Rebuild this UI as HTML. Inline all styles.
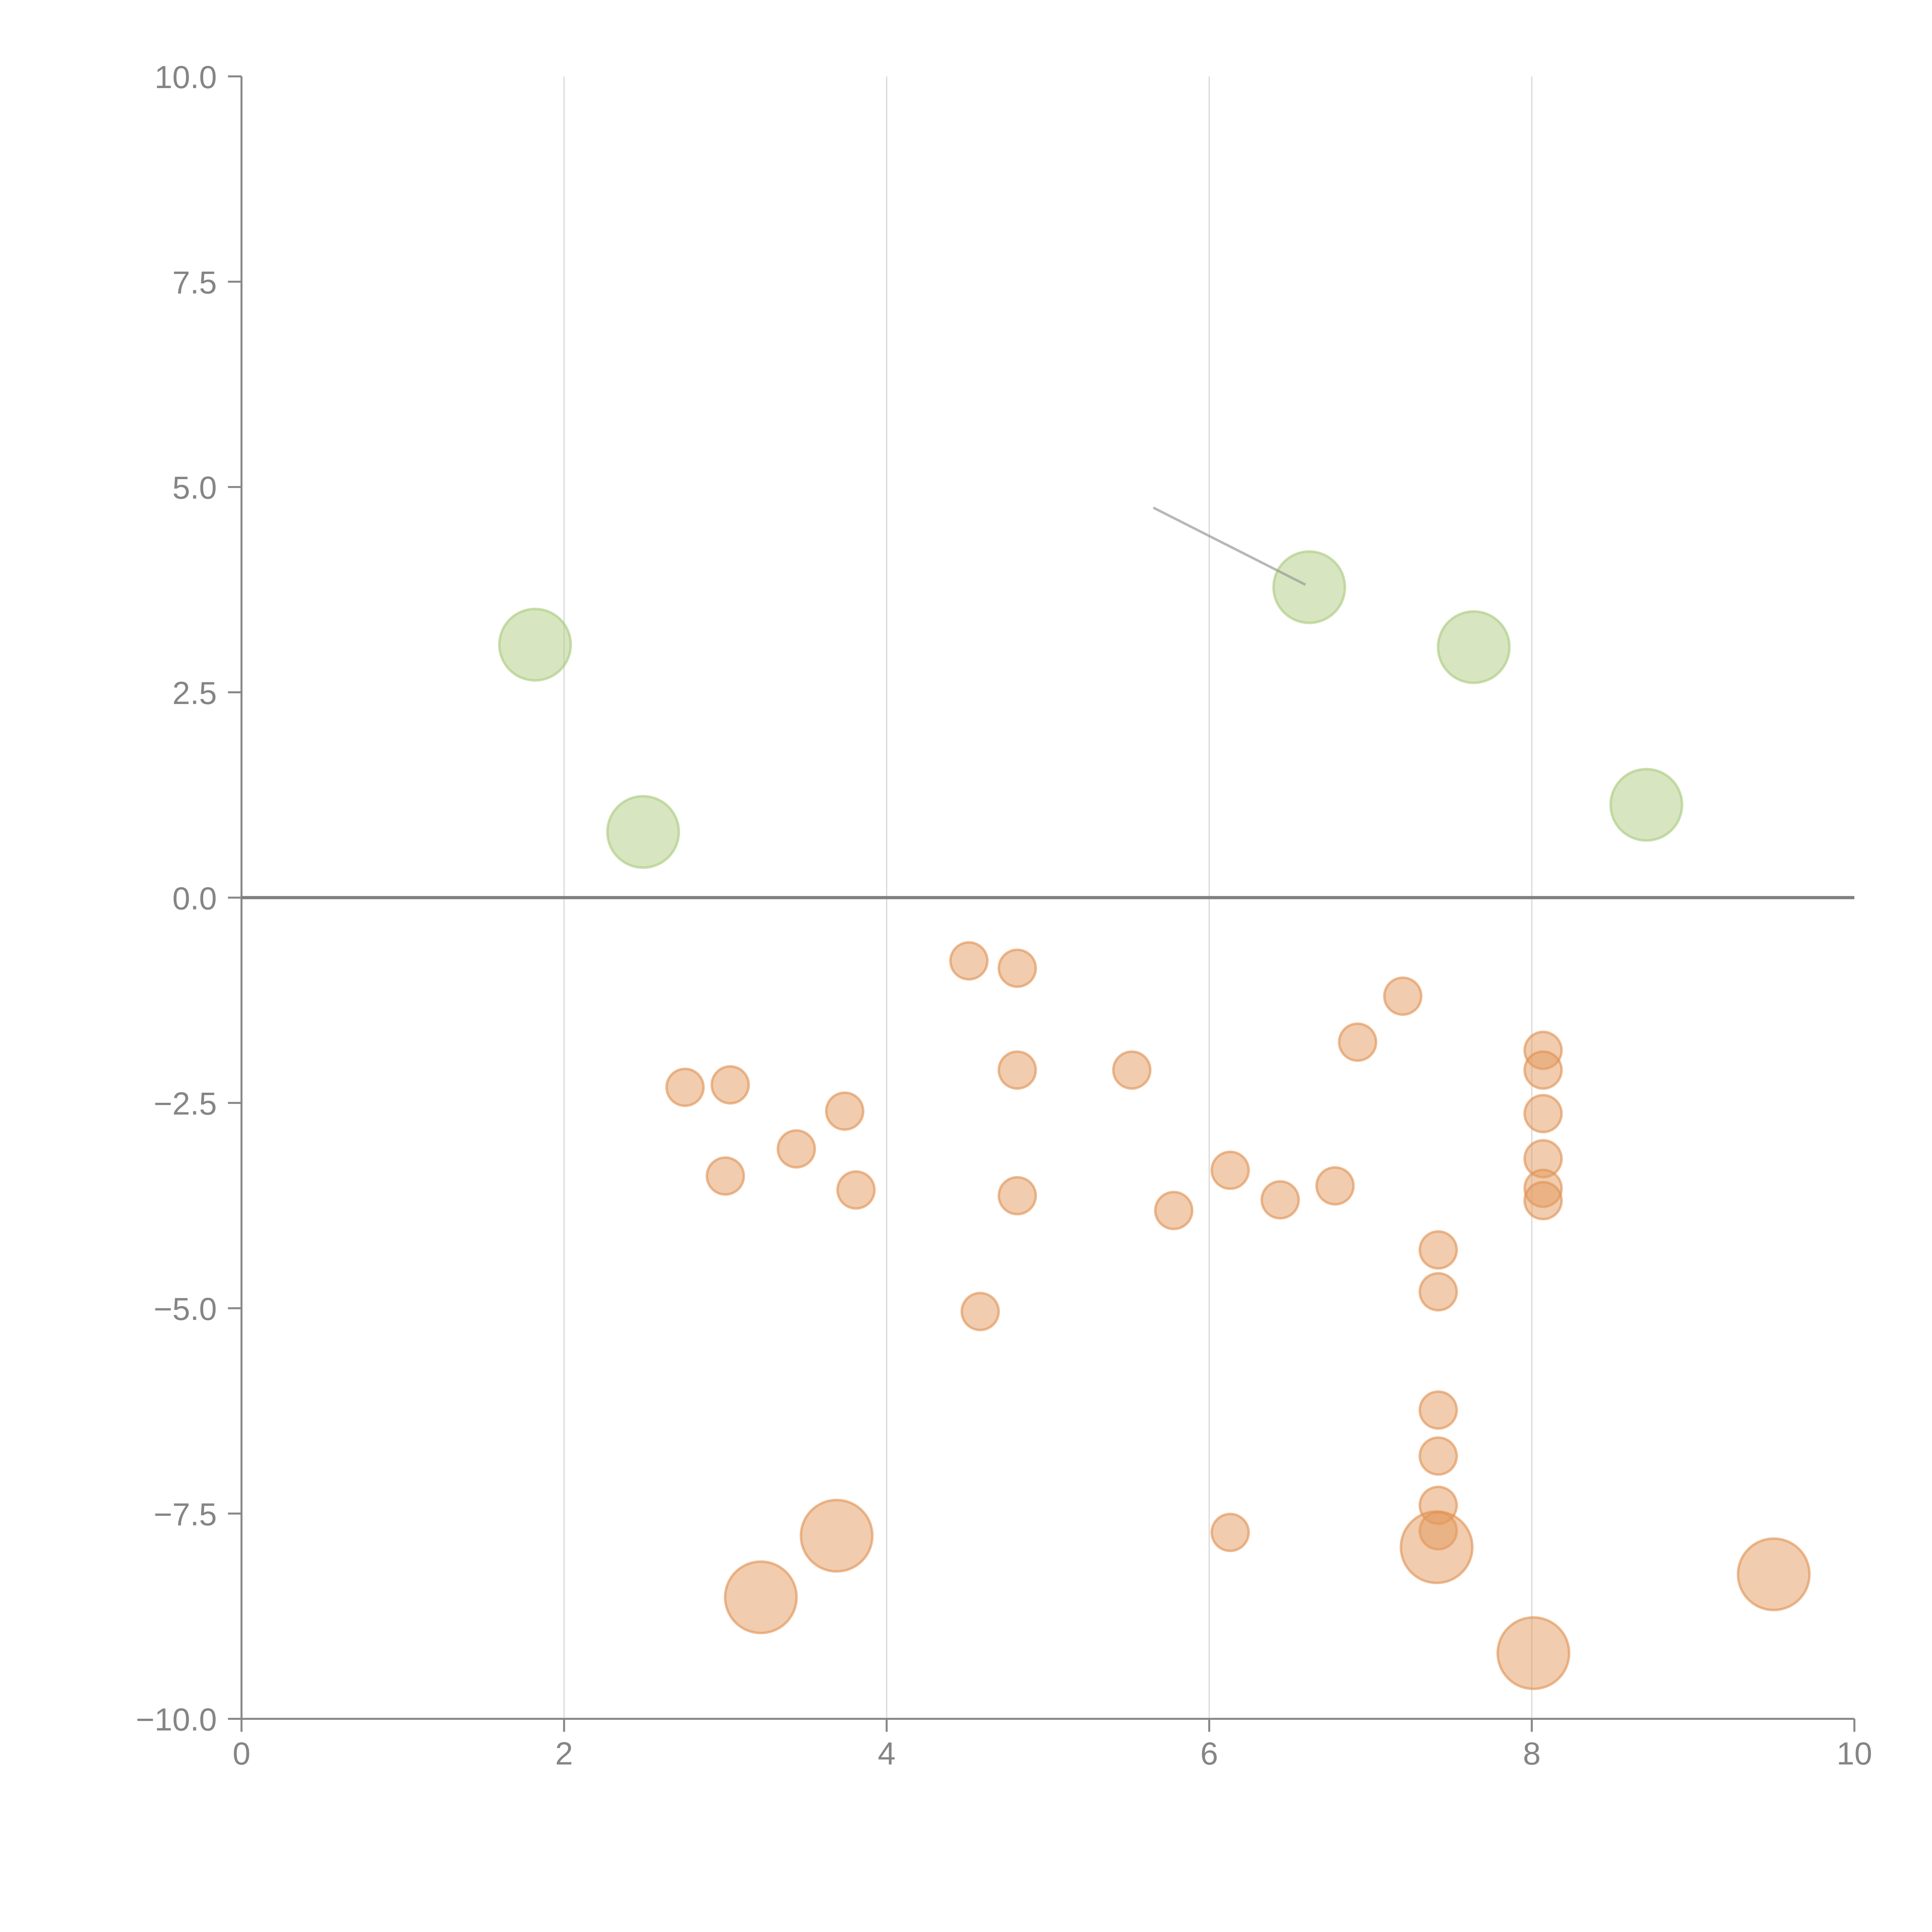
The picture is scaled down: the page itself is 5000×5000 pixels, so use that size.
<!DOCTYPE html>
<html><head><meta charset="utf-8"><style>
html,body{margin:0;padding:0;background:#fff;}
svg{display:block;}
text{font-family:"Liberation Sans",Arial,sans-serif;fill:#858585;}
</style></head>
<body>
<svg id="chart" width="5000" height="5000" viewBox="0 0 1568 1568" xmlns="http://www.w3.org/2000/svg">
<g id="grid"></g>
<g id="axes"></g>
<g id="marks"></g>
</svg>
<script>
const xTicks = [0, 2, 4, 6, 8, 10];
const yTicks = [10, 7.5, 5, 2.5, 0, -2.5, -5, -7.5, -10];
const yTickLabels = ["10.0", "7.5", "5.0", "2.5", "0.0", "\u22122.5", "\u22125.0", "\u22127.5", "\u221210.0"];
const greenX = [1.82, 2.49, 6.62, 7.64, 8.71];
const greenY = [3.08, 0.80, 3.78, 3.05, 1.13];
const bigOrangeX = [3.69, 3.22, 7.41, 8.01, 9.50];
const bigOrangeY = [-7.77, -8.52, -7.91, -9.20, -8.24];
const smallX = [4.51, 4.81, 7.20, 6.92, 8.07, 8.07, 4.81, 5.52, 2.75, 3.03, 3.74, 8.07, 3.44, 8.07, 3.00, 6.13, 6.78, 3.81, 4.81, 6.44, 8.07, 8.07, 5.78, 7.42, 7.42, 4.58, 7.42, 7.42, 7.42, 7.42, 6.13];
const smallY = [-0.77, -0.86, -1.20, -1.76, -1.86, -2.10, -2.10, -2.10, -2.31, -2.28, -2.60, -2.63, -3.06, -3.18, -3.39, -3.32, -3.51, -3.56, -3.63, -3.68, -3.54, -3.69, -3.81, -4.29, -4.80, -5.04, -6.24, -6.80, -7.40, -7.71, -7.73];

const X0 = 196, X1 = 1505, YT = 62, YB = 1395;
function sx(v){ return X0 + (v - 0) / 10 * (X1 - X0); }
function sy(v){ return YB - (v + 10) / 20 * (YB - YT); }
const NS = "http://www.w3.org/2000/svg";
function mk(tag, attrs, parent){
  const e = document.createElementNS(NS, tag);
  for (const k in attrs) e.setAttribute(k, attrs[k]);
  parent.appendChild(e);
  return e;
}
const grid = document.getElementById('grid');
const axes = document.getElementById('axes');
const marks = document.getElementById('marks');

xTicks.forEach(function(t){
  if (t > 0 && t < 10) {
    const g = mk('line', {x1:sx(t), x2:sx(t), y1:YT, y2:YB, stroke:'#d9d9d9', 'stroke-width':1}, grid);
    
    
  }
  const tk = mk('line', {x1:sx(t), x2:sx(t), y1:YB, y2:YB+10.5, stroke:'#878787', 'stroke-width':1.6}, axes);
  
  
  const tx = mk('text', {x:sx(t), y:YB+37, 'font-size':26, 'text-anchor':'middle'}, axes);
  tx.textContent = String(t);
  
  
});
yTicks.forEach(function(t, i){
  const tk = mk('line', {x1:X0-11, x2:X0, y1:sy(t), y2:sy(t), stroke:'#878787', 'stroke-width':1.6}, axes);
  
  
  const tx = mk('text', {x:X0-20, y:sy(t)+9.5, 'font-size':26, 'text-anchor':'end'}, axes);
  tx.textContent = yTickLabels[i];
  
  
});
const ya = mk('line', {x1:X0, x2:X0, y1:YT, y2:YB, stroke:'#878787', 'stroke-width':1.6}, axes);


const xa = mk('line', {x1:X0, x2:X1, y1:YB, y2:YB, stroke:'#878787', 'stroke-width':1.6}, axes);


const zl = mk('line', {x1:X0, x2:X1, y1:sy(0), y2:sy(0), stroke:'#808080', 'stroke-width':2.6}, axes);



function bubble(x, y, r, fill, stroke, name){
  const c = mk('circle', {cx:sx(x), cy:sy(y), r:r, fill:fill, 'fill-opacity':0.5, stroke:stroke, 'stroke-opacity':0.6, 'stroke-width':2}, marks);
  
  
}
greenX.forEach(function(x, i){ bubble(x, greenY[i], 29, '#afcc82', '#a9c97c', 'positive-bubble'); });
smallX.forEach(function(x, i){ bubble(x, smallY[i], 15, '#e39a5e', '#e09050', 'negative-bubble'); });
bigOrangeX.forEach(function(x, i){ bubble(x, bigOrangeY[i], 29, '#e39a5e', '#e09050', 'negative-large-bubble'); });

const ld = mk('line', {x1:936, y1:412, x2:sx(greenX[2]) - 3, y2:sy(greenY[2]) - 2, stroke:'#999', 'stroke-opacity':0.7, 'stroke-width':2}, marks);


</script>
</body></html>
